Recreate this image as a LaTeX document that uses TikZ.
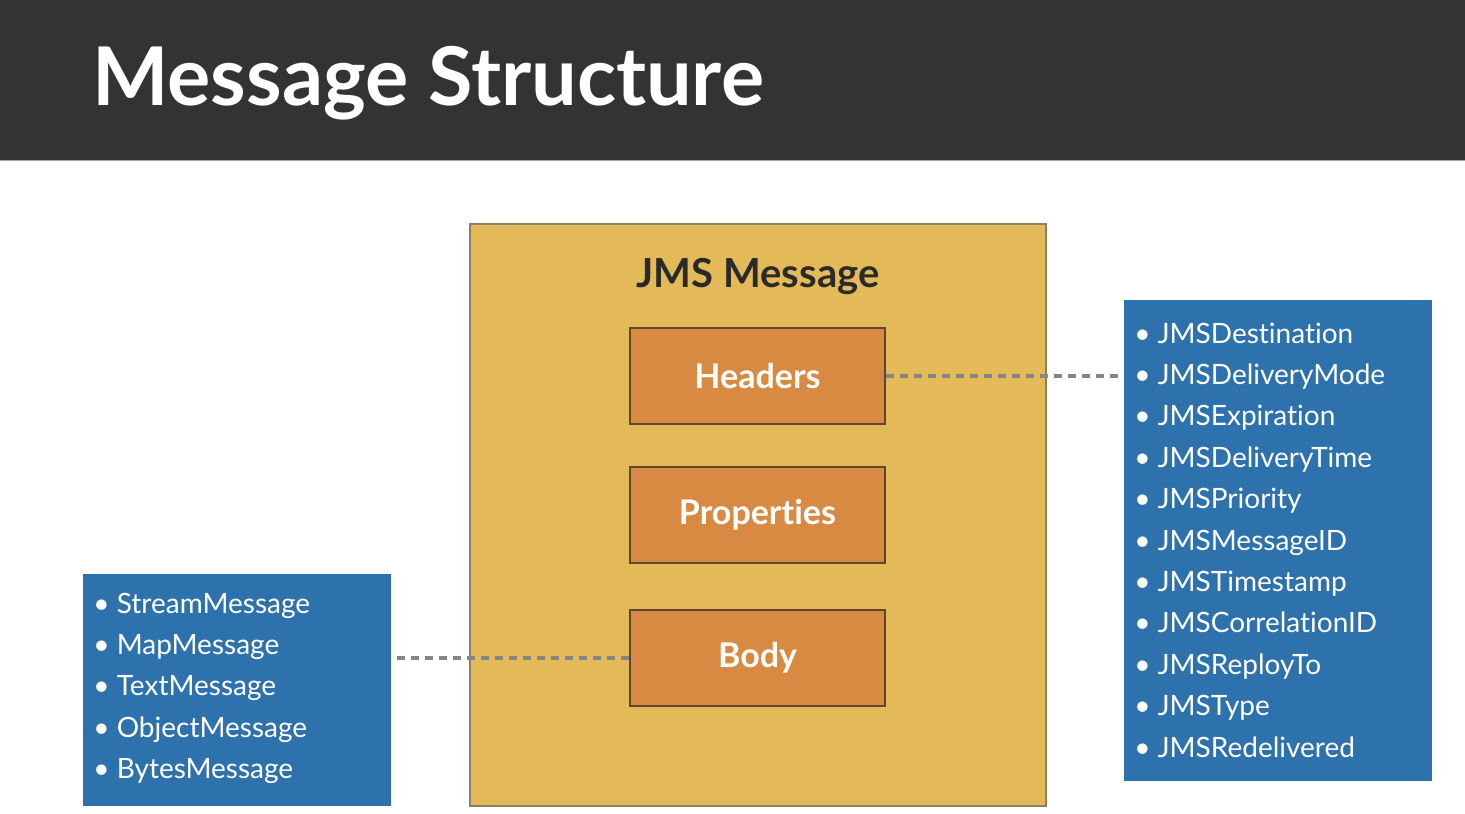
\documentclass[tikz,border=0pt]{standalone}
\usepackage{fontspec}
\setmainfont{Lato}[Ligatures={NoCommon,NoRare,NoDiscretionary}]
\definecolor{barbg}{HTML}{323335}
\definecolor{msgfill}{HTML}{E3BA57}
\definecolor{msgedge}{HTML}{8A8068}
\definecolor{partfill}{HTML}{D98A42}
\definecolor{partedge}{HTML}{5E4630}
\definecolor{listfill}{HTML}{2E72AD}
\definecolor{dashgray}{HTML}{858585}
\definecolor{titletext}{HTML}{2A2A2A}
\tikzset{
  partbox/.style={draw=partedge, line width=1.2pt, fill=partfill, minimum width=127.5pt, minimum height=48pt, inner sep=0pt, text=white, font=\fontsize{17}{20}\selectfont\bfseries},
  listbox/.style={fill=listfill, draw=none, inner sep=0pt},
  listitem/.style={anchor=base west, text=white, inner sep=0pt, font=\fontsize{14}{17}\selectfont},
  connector/.style={dashgray, line width=1.6pt, dash pattern=on 4pt off 3pt},
}
\begin{document}
\begin{tikzpicture}[x=0.5pt, y=-0.5pt]
\useasboundingbox (0,0) rectangle (1465,813);
\fill[white] (0,0) rectangle (1465,813);
% header bar
\fill[barbg] (0,0) rectangle (1465,160);
\draw[gray!70, line width=0.8pt] (0,160.5) -- (1465,160.5);
\node[anchor=base west, text=white, inner sep=0pt, font=\fontsize{40.5}{46}\selectfont\bfseries] (title) at (92,105) {Message Structure};
% main message box
\node[draw=msgedge, line width=1pt, fill=msgfill, minimum width=288pt, minimum height=291pt, inner sep=0pt] (msg) at (758,515) {};
\node[anchor=base, text=titletext, inner sep=0pt, font=\fontsize{20}{24}\selectfont\bfseries] (msgtitle) at (758,287) {JMS Message};
\node[partbox] (headers) at (757.5,376) {Headers};
\node[partbox] (props) at (757.5,515) {Properties};
\node[partbox] (body) at (757.5,658) {Body};
% right list
\node[listbox, minimum width=154pt, minimum height=240.5pt] (hdrlist) at (1278,540.5) {};
\foreach \t [count=\i from 0] in {JMSDestination,JMSDeliveryMode,JMSExpiration,JMSDeliveryTime,JMSPriority,JMSMessageID,JMSTimestamp,JMSCorrelationID,JMSReployTo,JMSType,JMSRedelivered}
  \node[listitem] (h\i) at (1134,{343+41.4*\i}) {\textbullet\ \t};
% left list
\node[listbox, minimum width=154pt, minimum height=116pt] (bodylist) at (237,690) {};
\foreach \t [count=\i from 0] in {StreamMessage,MapMessage,TextMessage,ObjectMessage,BytesMessage}
  \node[listitem] (b\i) at (93,{613+41.4*\i}) {\textbullet\ \t};
% connectors
\draw[connector] (headers.east) -- (headers.east -| hdrlist.west);
\draw[connector] (body.west) -- (body.west -| bodylist.east);
\end{tikzpicture}
\end{document}
